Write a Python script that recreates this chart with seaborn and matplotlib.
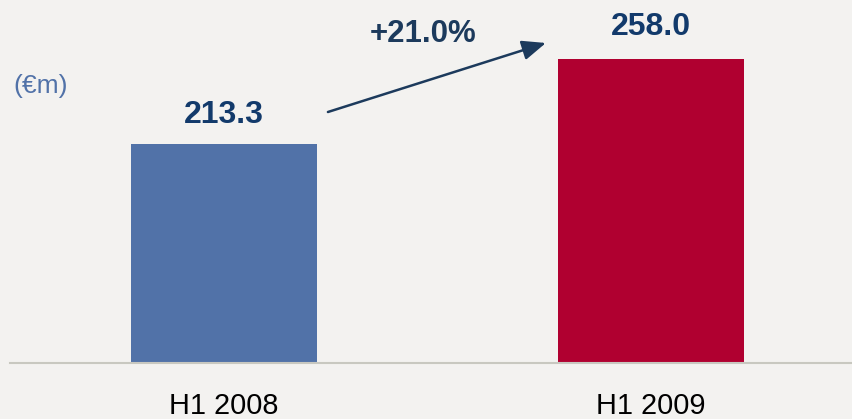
import matplotlib
matplotlib.use("Agg")
import matplotlib.pyplot as plt
import seaborn as sns
import pandas as pd

categories = ["H1 2008", "H1 2009"]
values = [213.3, 258.0]
value_labels = ["213.3", "258.0"]
growth_label = "+21.0%"
unit_label = "(€m)"
bar_colors = ["#5172A8", "#B00030"]
label_offsets = [15, 17]

sns.set_theme(style="white")
plt.rcParams['font.family'] = ['Liberation Sans', 'DejaVu Sans']

bg = "#F3F2F0"
fig = plt.figure(figsize=(8.52, 4.19), dpi=100, facecolor=bg)
ax = fig.add_axes([10/852, (419-363)/419, 842/852, 363/419])
ax.set_facecolor(bg)

df = pd.DataFrame({"cat": categories, "val": values})
sns.barplot(data=df, x="cat", y="val", hue="cat", palette=bar_colors,
            width=0.436, legend=False, ax=ax, saturation=1, linewidth=0)

ax.set_xlim(-0.501, 1.471)
ax.set_ylim(98.1, 289.0)
for s in ["top", "right", "left"]:
    ax.spines[s].set_visible(False)
ax.spines["bottom"].set_color("#C8C8C0")
ax.spines["bottom"].set_linewidth(1.5)
ax.set_yticks([])
ax.set_xlabel("")
ax.set_ylabel("")
ax.tick_params(axis="x", length=0, pad=21, labelsize=20.8, labelcolor="black")

for i, (v, lab, off) in enumerate(zip(values, value_labels, label_offsets)):
    ax.annotate(lab, xy=(i, v), xytext=(0, off), textcoords="offset points",
                ha="center", va="baseline", fontsize=23, fontweight="bold",
                color="#123A6B")

# growth arrow
ax.annotate("", xy=(0.754, 266.4), xytext=(0.2436, 230.1),
            arrowprops=dict(arrowstyle="-|>,head_length=1.2,head_width=0.5",
                            color="#1C3A5C", lw=1.8, shrinkA=0, shrinkB=0))
fig.text(423/852, 1 - 34/419, growth_label, ha="center", va="center",
         fontsize=22.5, fontweight="bold", color="#1C3A5C")
fig.text(13/852, 1 - 86/419, unit_label, ha="left", va="center",
         fontsize=19, color="#5172A8")

fig.savefig("out.png", dpi=100, facecolor=bg)
